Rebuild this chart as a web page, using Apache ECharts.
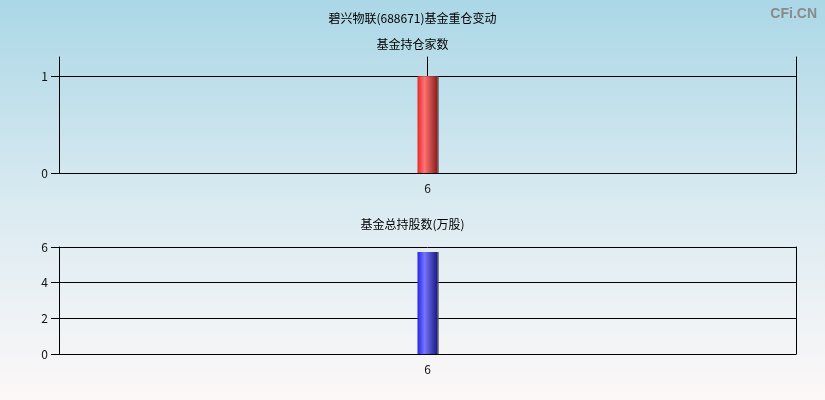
<!DOCTYPE html>
<html>
<head>
<meta charset="utf-8">
<script src="https://cdn.jsdelivr.net/npm/echarts@6/dist/echarts.min.js"></script>
<style>
html,body{margin:0;padding:0;}
#chart{width:825px;height:400px;}
</style>
</head>
<body>
<div id="chart"></div>
<script>
// ---- data ----
const categories = ['6'];
const fundCount = [1];          // 基金持仓家数
const fundShares = [5.72];      // 基金总持股数(万股)
const mainTitle = '碧兴物联(688671)基金重仓变动';
const topTitle = '基金持仓家数';
const bottomTitle = '基金总持股数(万股)';

const FONT = '"Noto Sans CJK SC", "Microsoft YaHei", sans-serif';
const chart = echarts.init(document.getElementById('chart'));

const plotW = 796 - 59;
const black = '#000';

function barColor(c0, c1, c2) {
  return new echarts.graphic.LinearGradient(0, 0, 1, 0, [
    {offset: 0, color: c0},
    {offset: 0.35, color: c1},
    {offset: 1, color: c2}
  ]);
}

const option = {
  backgroundColor: new echarts.graphic.LinearGradient(0, 0, 0, 1, [
    {offset: 0, color: '#abd7e6'},
    {offset: 0.5, color: '#d9eaf1'},
    {offset: 1, color: '#fdf8f8'}
  ]),
  animation: false,
  title: [
    {text: mainTitle, left: 'center', top: 7, textStyle: {fontSize: 12, fontWeight: 'normal', color: '#000', fontFamily: FONT}},
    {text: topTitle, left: 'center', top: 33, textStyle: {fontSize: 12, fontWeight: 'normal', color: '#000', fontFamily: FONT}},
    {text: bottomTitle, left: 'center', top: 213, textStyle: {fontSize: 12, fontWeight: 'normal', color: '#000', fontFamily: FONT}},
    {text: 'CFi.CN', right: 3, top: 2, textStyle: {fontSize: 14, fontWeight: 'bold', color: '#8a8a8a', fontFamily: '"Liberation Sans", Arial, sans-serif'}}
  ],
  grid: [
    {left: 59, right: 29, top: 57, bottom: 227},
    {left: 59, right: 29, top: 247, bottom: 46}
  ],
  xAxis: [
    {gridIndex: 0, type: 'category', data: categories,
     axisLine: {lineStyle: {color: black, width: 1}},
     axisTick: {length: 5, lineStyle: {color: black}},
     axisLabel: {color: '#111', fontSize: 12, margin: 9, fontFamily: FONT},
     splitLine: {show: false}},
    {gridIndex: 0, type: 'category', data: categories, position: 'bottom',
     axisLine: {show: false},
     axisTick: {alignWithLabel: true, length: 5, lineStyle: {color: black}},
     axisLabel: {show: false}},
    {gridIndex: 1, type: 'category', data: categories,
     axisLine: {lineStyle: {color: black, width: 1}},
     axisTick: {length: 5, lineStyle: {color: black}},
     axisLabel: {color: '#111', fontSize: 12, margin: 9, fontFamily: FONT}},
    {gridIndex: 1, type: 'category', data: categories, position: 'bottom',
     axisLine: {show: false},
     axisTick: {alignWithLabel: true, length: 5, lineStyle: {color: black}},
     axisLabel: {show: false}},
    {gridIndex: 1, type: 'category', data: categories, position: 'top',
     axisLine: {show: false},
     axisTick: {alignWithLabel: true, length: 4, lineStyle: {color: black}},
     axisLabel: {show: false}}
  ],
  yAxis: [
    {gridIndex: 0, type: 'value', min: 0, max: 1.2, interval: 1,
     axisLine: {show: true, lineStyle: {color: black}},
     axisTick: {show: true, length: 8, lineStyle: {color: black}},
     axisLabel: {color: '#111', fontSize: 12, margin: 11, fontFamily: FONT, showMaxLabel: false},
     splitLine: {show: true, lineStyle: {color: [black, black, 'rgba(0,0,0,0)'], width: 1}}},
    {gridIndex: 0, type: 'value', min: 0, max: 1.2, interval: 1, position: 'right',
     axisLine: {show: true, lineStyle: {color: black}},
     axisTick: {show: false}, axisLabel: {show: false}, splitLine: {show: false}},
    {gridIndex: 0, type: 'value', min: 0, max: 1.2, interval: 1, position: 'left', offset: -plotW / 2,
     axisLine: {show: true, lineStyle: {color: black}},
     axisTick: {show: false}, axisLabel: {show: false}, splitLine: {show: false}},
    {gridIndex: 1, type: 'value', min: 0, max: 6, interval: 2,
     axisLine: {show: true, lineStyle: {color: black}},
     axisTick: {show: true, length: 8, lineStyle: {color: black}},
     axisLabel: {color: '#111', fontSize: 12, margin: 11, fontFamily: FONT},
     splitLine: {show: true, lineStyle: {color: black, width: 1}}},
    {gridIndex: 1, type: 'value', min: 0, max: 6, interval: 2, position: 'right',
     axisLine: {show: true, lineStyle: {color: black}},
     axisTick: {show: false}, axisLabel: {show: false}, splitLine: {show: false}}
  ],
  series: [
    {type: 'bar', xAxisIndex: 0, yAxisIndex: 0, data: fundCount, barWidth: 20, z: 5,
     itemStyle: {color: barColor('#e62a2a', '#ff7272', '#8a1c1c'),
                 shadowColor: 'rgba(90,90,90,0.7)', shadowOffsetX: 1.5, shadowBlur: 0}},
    {type: 'bar', xAxisIndex: 2, yAxisIndex: 3, data: fundShares, barWidth: 20, z: 5,
     itemStyle: {color: barColor('#2626e6', '#7474ff', '#1a1a82'),
                 shadowColor: 'rgba(90,90,90,0.7)', shadowOffsetX: 1.5, shadowBlur: 0}}
  ]
};
chart.setOption(option);
</script>
</body>
</html>
